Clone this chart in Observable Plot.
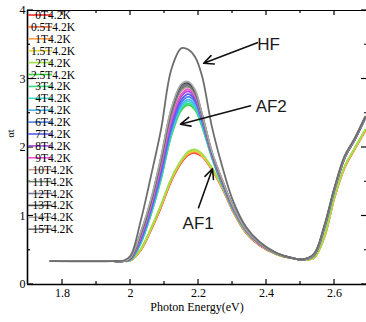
<!DOCTYPE html>
<html><head><meta charset="utf-8">
<script src="https://cdn.jsdelivr.net/npm/d3@7"></script>
<script src="https://cdn.jsdelivr.net/npm/@observablehq/plot@0.6"></script>
<style>body{margin:0;background:#fff} #chart svg{display:block}</style>
</head><body><div id="chart"></div>
<script>
// photon energy grid (eV)
const energy = [1.765,1.95,1.98,2.0,2.03,2.06,2.09,2.12,2.15,2.17,2.19,2.21,2.24,2.27,2.30,2.34,2.38,2.43,2.48,2.51,2.54,2.57,2.60,2.63,2.66,2.69];

const labels = ["0T4.2K","0.5T4.2K","1T4.2K","1.5T4.2K","2T4.2K","2.5T4.2K","3T4.2K","4T4.2K","5T4.2K","6T4.2K","7T4.2K","8T4.2K","9T4.2K","10T4.2K","11T4.2K","12T4.2K","13T4.2K","14T4.2K","15T4.2K"];
const colors = ["#ff2a2a","#ff6640","#ff9e4a","#e6d23a","#9ee04a","#3cd23c","#3cdc82","#3cdcc8","#46b4f0","#4a82f0","#5a5af0","#a04ae0","#f050dc","#c09a8c","#648264","#787896","#464646","#a8a8a8","#6e6e6e"];

const s0T  = [0.34,0.34,0.34,0.35,0.50,0.79,1.13,1.51,1.78,1.89,1.92,1.87,1.67,1.40,1.08,0.75,0.57,0.44,0.38,0.36,0.39,0.69,1.27,1.71,1.98,2.24];
const s05T = [0.34,0.34,0.34,0.35,0.50,0.80,1.14,1.52,1.79,1.90,1.93,1.88,1.68,1.41,1.09,0.75,0.57,0.44,0.38,0.36,0.39,0.69,1.27,1.71,1.98,2.24];
const s1T  = [0.34,0.34,0.34,0.35,0.51,0.81,1.15,1.53,1.80,1.91,1.94,1.88,1.68,1.41,1.09,0.76,0.58,0.44,0.38,0.36,0.39,0.70,1.28,1.72,1.99,2.25];
const s15T = [0.34,0.34,0.34,0.35,0.51,0.81,1.16,1.54,1.81,1.92,1.95,1.89,1.69,1.42,1.10,0.76,0.58,0.44,0.38,0.36,0.39,0.70,1.28,1.72,1.99,2.25];
const s2T  = [0.34,0.34,0.34,0.35,0.52,0.82,1.17,1.55,1.82,1.94,1.97,1.91,1.70,1.43,1.11,0.76,0.58,0.44,0.38,0.36,0.39,0.70,1.29,1.73,2.00,2.26];
const s25T = [0.34,0.34,0.34,0.36,0.60,1.02,1.54,2.17,2.55,2.62,2.55,2.31,1.84,1.45,1.11,0.78,0.59,0.45,0.38,0.365,0.43,0.82,1.38,1.85,2.12,2.42];
const s3T  = [0.34,0.34,0.34,0.36,0.61,1.03,1.56,2.19,2.57,2.64,2.57,2.33,1.85,1.45,1.11,0.78,0.59,0.45,0.38,0.365,0.43,0.82,1.38,1.85,2.12,2.42];
const s4T  = [0.34,0.34,0.34,0.36,0.61,1.04,1.57,2.21,2.59,2.67,2.59,2.34,1.85,1.46,1.12,0.78,0.59,0.45,0.38,0.365,0.43,0.82,1.38,1.85,2.12,2.42];
const s5T  = [0.34,0.34,0.34,0.36,0.62,1.05,1.59,2.23,2.62,2.70,2.62,2.36,1.86,1.46,1.12,0.78,0.59,0.45,0.38,0.365,0.43,0.82,1.38,1.85,2.12,2.42];
const s6T  = [0.34,0.34,0.34,0.37,0.64,1.08,1.62,2.27,2.66,2.74,2.66,2.39,1.87,1.47,1.13,0.79,0.59,0.45,0.38,0.365,0.43,0.83,1.39,1.85,2.12,2.43];
const s7T  = [0.34,0.34,0.34,0.37,0.66,1.10,1.66,2.32,2.70,2.78,2.69,2.41,1.88,1.48,1.13,0.79,0.59,0.45,0.38,0.365,0.43,0.83,1.39,1.85,2.12,2.43];
const s8T  = [0.34,0.34,0.34,0.37,0.68,1.13,1.70,2.37,2.75,2.82,2.72,2.43,1.89,1.49,1.14,0.79,0.59,0.45,0.38,0.365,0.43,0.83,1.39,1.85,2.12,2.43];
const s9T  = [0.34,0.34,0.34,0.37,0.70,1.15,1.74,2.41,2.78,2.85,2.75,2.45,1.89,1.49,1.14,0.79,0.59,0.45,0.38,0.365,0.43,0.83,1.39,1.85,2.12,2.43];
const s10T = [0.34,0.34,0.34,0.38,0.72,1.18,1.79,2.47,2.83,2.88,2.77,2.46,1.90,1.50,1.15,0.80,0.60,0.45,0.38,0.365,0.44,0.84,1.40,1.86,2.13,2.44];
const s11T = [0.34,0.34,0.34,0.38,0.73,1.20,1.81,2.50,2.86,2.90,2.79,2.47,1.91,1.51,1.15,0.80,0.60,0.45,0.38,0.365,0.44,0.84,1.40,1.86,2.13,2.44];
const s12T = [0.34,0.34,0.34,0.38,0.74,1.21,1.83,2.52,2.88,2.92,2.80,2.48,1.91,1.51,1.15,0.80,0.60,0.45,0.38,0.365,0.44,0.84,1.40,1.86,2.13,2.44];
const s13T = [0.34,0.34,0.34,0.38,0.75,1.22,1.85,2.55,2.91,2.94,2.82,2.49,1.92,1.52,1.16,0.80,0.60,0.45,0.38,0.365,0.44,0.84,1.40,1.86,2.13,2.44];
const s14T = [0.34,0.34,0.34,0.39,0.76,1.24,1.87,2.57,2.93,2.96,2.84,2.50,1.93,1.53,1.16,0.80,0.60,0.45,0.38,0.365,0.44,0.84,1.40,1.86,2.13,2.44];
const s15Tb= [0.34,0.34,0.35,0.42,0.93,1.58,2.27,3.14,3.45,3.43,3.32,3.05,2.29,1.72,1.24,0.84,0.62,0.46,0.38,0.37,0.45,0.86,1.42,1.88,2.14,2.45];
const seriesValues = [s0T,s05T,s1T,s15T,s2T,s25T,s3T,s4T,s5T,s6T,s7T,s8T,s9T,s10T,s11T,s12T,s13T,s14T,s15Tb];

const xTicks = [1.8,2,2.2,2.4,2.6];
const xMinor = [1.9,2.1,2.3,2.5];
const yTicks = [0,1,2,3,4];
const yMinor = [0.5,1.5,2.5,3.5];

// annotations (data coordinates)
const annText = ["HF","AF2","AF1"];
const annTx = [2.373,2.368,2.153];
const annTy = [3.50,2.60,0.89];
const arrX1 = [2.373,2.353,2.200];
const arrY1 = [3.53,2.61,1.12];
const arrX2 = [2.215,2.147,2.241];
const arrY2 = [3.23,2.34,1.69];

const serif = "'Liberation Serif', 'Times New Roman', Times, serif";

const rows = [];
seriesValues.forEach((vals,i)=>vals.forEach((v,j)=>rows.push({series:labels[i], x:energy[j], y:v})));
const ann = annText.map((t,i)=>({t, x:annTx[i], y:annTy[i]}));
const arrows = arrX1.map((x1,i)=>({x1, y1:arrY1[i], x2:arrX2[i], y2:arrY2[i]}));

const plot = Plot.plot({
  width: 366, height: 322,
  marginLeft: 27, marginRight: 0, marginTop: 10, marginBottom: 38,
  style: {fontFamily: serif, fontSize: "12px", background: "#fff"},
  x: {domain: [1.697, 2.697], range: [27, 367]},
  y: {domain: [0, 4], range: [284, 10]},
  color: {domain: labels, range: colors},
  marks: [
    Plot.line(rows, {x: "x", y: "y", stroke: "series", strokeWidth: 1.8, curve: "catmull-rom"}),
    Plot.ruleX([1.697], {stroke: "#000", strokeWidth: 1.6}),
    Plot.ruleY([0], {stroke: "#000", strokeWidth: 1.6}),
    Plot.ruleY([4], {stroke: "#000", strokeWidth: 1.2}),
    Plot.axisX({anchor: "bottom", ticks: xTicks, tickSize: 0, tickPadding: 4, tickFormat: d => String(d), label: null, fontSize: 12, fontFamily: serif}),
    Plot.axisY({anchor: "left", ticks: yTicks, tickSize: 0, tickPadding: 2, tickFormat: d => String(d), label: null, fontSize: 12, fontFamily: serif}),
    Plot.text(["Photon Energy(eV)"], {frameAnchor: "bottom", dy: 26, fontSize: 12, fontFamily: serif, fill: "#000"}),
    Plot.text(["αt"], {frameAnchor: "left", dx: -17, dy: -10, rotate: -90, fontSize: 10, fontFamily: serif, fill: "#000"}),
    Plot.arrow(arrows, {x1: "x1", y1: "y1", x2: "x2", y2: "y2", stroke: "#111", strokeWidth: 1.6, headLength: 10, headAngle: 50}),
    Plot.text(ann, {x: "x", y: "y", text: "t", textAnchor: "start", fontFamily: "'Liberation Sans', Arial, sans-serif", fontSize: 17, fill: "#1a1a1a"})
  ]
});
document.getElementById("chart").appendChild(plot);

// inward tick marks and in-plot legend, positioned with the plot's own scales
const sx = plot.scale("x"), sy = plot.scale("y");
const fx = sx.apply ? sx.apply : d3.scaleLinear(sx.domain, sx.range);
const fy = sy.apply ? sy.apply : d3.scaleLinear(sy.domain, sy.range);
const svg = d3.select(plot);
const g = svg.append("g").attr("stroke", "#000").attr("stroke-width", 1.2);
const x0 = fx(1.697), xR = fx(2.697), yB = fy(0), yT = fy(4);
xTicks.forEach(v => { g.append("line").attr("x1", fx(v)).attr("x2", fx(v)).attr("y1", yB).attr("y2", yB - 5);
  g.append("line").attr("x1", fx(v)).attr("x2", fx(v)).attr("y1", yT).attr("y2", yT + 5); });
xMinor.forEach(v => { g.append("line").attr("x1", fx(v)).attr("x2", fx(v)).attr("y1", yB).attr("y2", yB - 3);
  g.append("line").attr("x1", fx(v)).attr("x2", fx(v)).attr("y1", yT).attr("y2", yT + 3); });
yTicks.forEach(v => { g.append("line").attr("x1", x0).attr("x2", x0 + 6).attr("y1", fy(v)).attr("y2", fy(v));
  g.append("line").attr("x1", xR).attr("x2", xR - 6).attr("y1", fy(v)).attr("y2", fy(v)); });
yMinor.forEach(v => { g.append("line").attr("x1", x0).attr("x2", x0 + 3).attr("y1", fy(v)).attr("y2", fy(v));
  g.append("line").attr("x1", xR).attr("x2", xR - 3).attr("y1", fy(v)).attr("y2", fy(v)); });

const lg = svg.append("g");
labels.forEach((lab, i) => {
  const y = 15 + i * 11.9;
  lg.append("line").attr("x1", x0 + 1).attr("x2", 52).attr("y1", y).attr("y2", y)
    .attr("stroke", colors[i]).attr("stroke-width", 1.6);
  lg.append("text").attr("x", 53).attr("y", y).attr("dy", "0.35em")
    .style("font-family", serif).attr("font-size", 11.5).attr("fill", "#000").text(lab);
});
</script>
</body></html>
